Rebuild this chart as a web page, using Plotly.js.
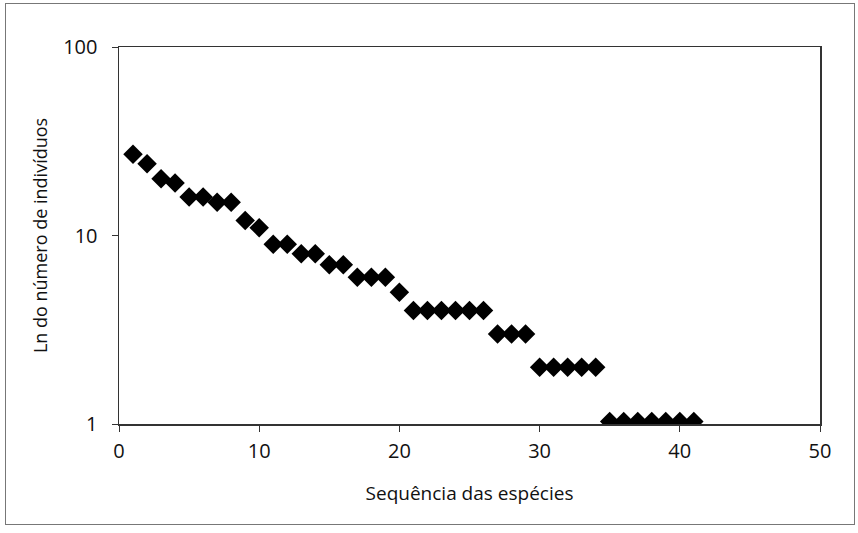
<!DOCTYPE html>
<html>
<head>
<meta charset="utf-8">
<script src="https://cdn.plot.ly/plotly-3.0.1.min.js"></script>
<style>
html,body{margin:0;padding:0;background:#fff;}
#frame{position:absolute;left:5px;top:3px;width:850px;height:522px;border:1px solid #777;box-sizing:border-box;pointer-events:none;z-index:10;}
#chart{width:858px;height:533px;}
</style>
</head>
<body>
<div id="frame"></div>
<div id="chart"></div>
<script>
const species = [1,2,3,4,5,6,7,8,9,10,11,12,13,14,15,16,17,18,19,20,21,22,23,24,25,26,27,28,29,30,31,32,33,34,35,36,37,38,39,40,41];
const individuals = [27,24,20,19,16,16,15,15,12,11,9,9,8,8,7,7,6,6,6,5,4,4,4,4,4,4,3,3,3,2,2,2,2,2,1.03,1.03,1.03,1.03,1.03,1.03,1.03];
const yTicks = [1,10,100];
const xTicks = [0,10,20,30,40,50];

const font = "Open Sans, Liberation Sans, sans-serif";

Plotly.newPlot('chart', [{
  x: species,
  y: individuals,
  type: 'scatter',
  mode: 'markers',
  marker: {symbol: 'diamond', size: 15, color: '#000'},
  hoverinfo: 'skip'
}], {
  width: 858, height: 533,
  margin: {l: 119, r: 38, t: 47, b: 109},
  paper_bgcolor: '#fff', plot_bgcolor: '#fff',
  showlegend: false,
  font: {family: font, color: '#111', size: 17},
  xaxis: {
    range: [0, 50], tickvals: xTicks, ticktext: xTicks.map(String),
    showgrid: false, zeroline: false,
    showline: true, linecolor: '#333', linewidth: 1.5, mirror: true,
    ticks: 'outside', ticklen: 6, tickcolor: '#333', tickwidth: 1,
    ticklabelstandoff: 2,
    tickfont: {size: 20, family: font},
    title: {text: 'Sequência das espécies', font: {size: 19, family: font}, standoff: 24}
  },
  yaxis: {
    type: 'log', range: [0, 2], tickvals: yTicks, ticktext: yTicks.map(String),
    showgrid: false, zeroline: false,
    showline: true, linecolor: '#333', linewidth: 1.5, mirror: true,
    ticks: 'outside', ticklen: 6, tickcolor: '#333', tickwidth: 1,
    ticklabelstandoff: 10,
    tickfont: {size: 20, family: font},
    title: {text: 'Ln do número de indivíduos', font: {size: 18, family: font}, standoff: 11}
  }
}, {staticPlot: true});
</script>
</body>
</html>
